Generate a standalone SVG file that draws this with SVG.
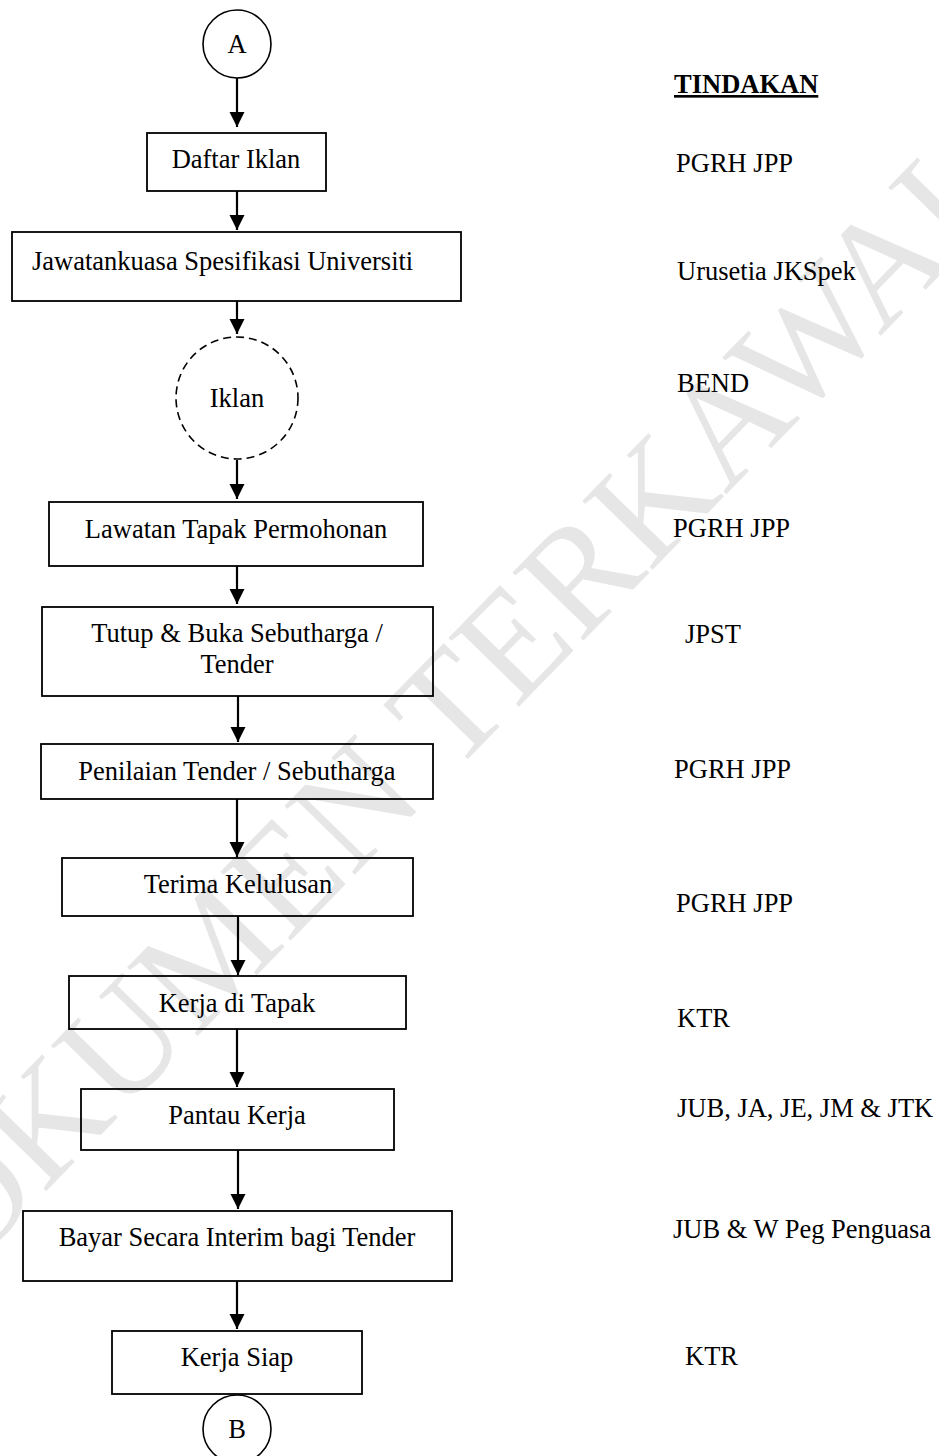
<svg xmlns="http://www.w3.org/2000/svg" width="939" height="1456" viewBox="0 0 939 1456">
<style>
text{font-family:"Liberation Serif","Times New Roman",serif;font-size:26.5px;fill:#000}
.c{text-anchor:middle}
.box{fill:none;stroke:#000;stroke-width:1.8}
.circ{fill:none;stroke:#000;stroke-width:1.6}
.dash{fill:none;stroke:#000;stroke-width:1.6;stroke-dasharray:8 5}
.arr{stroke:#000;stroke-width:2.2;fill:none;marker-end:url(#ah)}
.wm{font-size:150px;fill:#e6e6e6}
.hd{font-weight:bold;text-decoration:underline}
</style>
<defs>
<marker id="ah" markerUnits="userSpaceOnUse" markerWidth="16" markerHeight="16" refX="15" refY="7.5" orient="auto">
<path d="M0,0 L15,7.5 L0,15 z" fill="#000"/>
</marker>
</defs>
<rect width="939" height="1456" fill="#fff"/>
<g id="watermark">
<text class="wm" transform="translate(-108,1349) rotate(-45.7)">DOKUMEN TERKAWAL</text>
</g>
<g id="connectors">
<line class="arr" x1="237" y1="78" x2="237" y2="127"/>
<line class="arr" x1="237" y1="191" x2="237" y2="230"/>
<line class="arr" x1="237" y1="301" x2="237" y2="334"/>
<line class="arr" x1="237" y1="460" x2="237" y2="499"/>
<line class="arr" x1="237" y1="566" x2="237" y2="604"/>
<line class="arr" x1="238" y1="696" x2="238" y2="742"/>
<line class="arr" x1="237" y1="799" x2="237" y2="857"/>
<line class="arr" x1="238" y1="916" x2="238" y2="975"/>
<line class="arr" x1="237" y1="1029" x2="237" y2="1087"/>
<line class="arr" x1="238" y1="1150" x2="238" y2="1209"/>
<line class="arr" x1="237" y1="1281" x2="237" y2="1329"/>
</g>
<g id="nodeA">
<circle class="circ" cx="237" cy="44" r="34"/>
<text class="c" x="237" y="53">A</text>
</g>
<g id="daftar">
<rect class="box" x="147" y="133" width="179" height="58"/>
<text class="c" x="236" y="168">Daftar Iklan</text>
</g>
<g id="jawatankuasa">
<rect class="box" x="12" y="232" width="449" height="69"/>
<text x="32" y="270">Jawatankuasa Spesifikasi Universiti</text>
</g>
<g id="iklan">
<circle class="dash" cx="237" cy="398" r="61"/>
<text class="c" x="237" y="407">Iklan</text>
</g>
<g id="lawatan">
<rect class="box" x="49" y="502" width="374" height="64"/>
<text class="c" x="236" y="538">Lawatan Tapak Permohonan</text>
</g>
<g id="tutup">
<rect class="box" x="42" y="607" width="391" height="89"/>
<text class="c" x="237" y="642">Tutup &amp; Buka Sebutharga /</text>
<text class="c" x="237" y="673">Tender</text>
</g>
<g id="penilaian">
<rect class="box" x="41" y="744" width="392" height="55"/>
<text class="c" x="237" y="780">Penilaian Tender / Sebutharga</text>
</g>
<g id="terima">
<rect class="box" x="62" y="858" width="351" height="58"/>
<text class="c" x="238" y="893">Terima Kelulusan</text>
</g>
<g id="kerjaTapak">
<rect class="box" x="69" y="976" width="337" height="53"/>
<text class="c" x="237" y="1012">Kerja di Tapak</text>
</g>
<g id="pantau">
<rect class="box" x="81" y="1089" width="313" height="61"/>
<text class="c" x="237" y="1124">Pantau Kerja</text>
</g>
<g id="bayar">
<rect class="box" x="23" y="1211" width="429" height="70"/>
<text class="c" x="237" y="1246">Bayar Secara Interim bagi Tender</text>
</g>
<g id="kerjaSiap">
<rect class="box" x="112" y="1331" width="250" height="63"/>
<text class="c" x="237" y="1366">Kerja Siap</text>
</g>
<g id="nodeB">
<circle class="circ" cx="237" cy="1429" r="34"/>
<text class="c" x="237" y="1438">B</text>
</g>
<g id="tindakan">
<text class="hd" x="674" y="93">TINDAKAN</text>
<text x="676" y="172">PGRH JPP</text>
<text x="677" y="280">Urusetia JKSpek</text>
<text x="677" y="392">BEND</text>
<text x="673" y="537">PGRH JPP</text>
<text x="685" y="643">JPST</text>
<text x="674" y="778">PGRH JPP</text>
<text x="676" y="912">PGRH JPP</text>
<text x="677" y="1027">KTR</text>
<text x="677" y="1117">JUB, JA, JE, JM &amp; JTK</text>
<text x="673" y="1238">JUB &amp; W Peg Penguasa</text>
<text x="685" y="1365">KTR</text>
</g>
</svg>
